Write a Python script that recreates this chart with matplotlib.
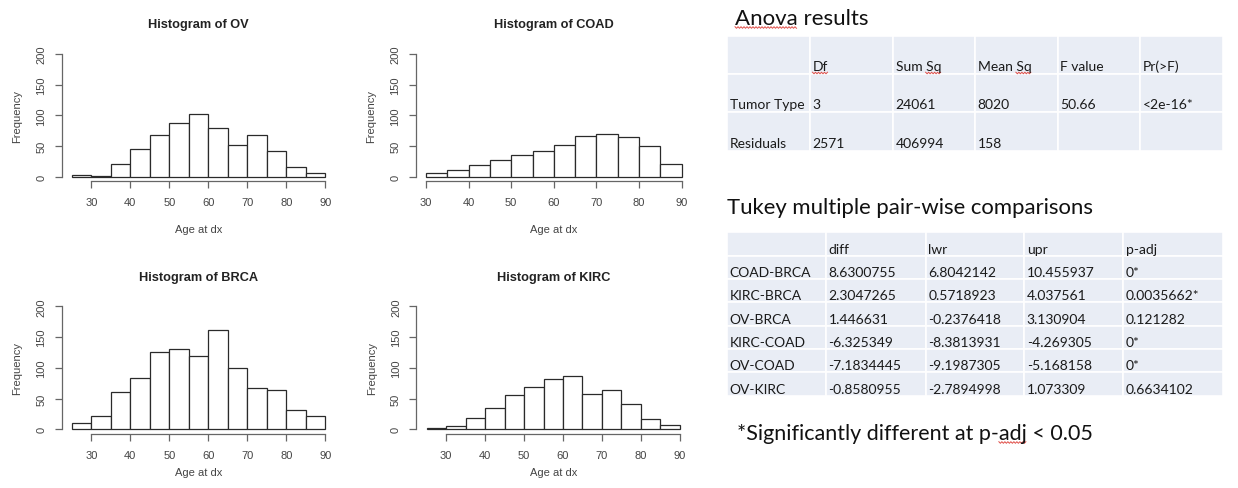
import numpy as np
import matplotlib
matplotlib.use('Agg')
import matplotlib.pyplot as plt
from matplotlib.patches import Rectangle

W, H = 1238, 489

# age-at-diagnosis histograms, 5-year bins
ov_edges = np.arange(25, 91, 5)
ov_counts = [2, 1, 20, 45, 68, 88, 102, 80, 52, 68, 41, 16, 5]
coad_edges = np.arange(30, 91, 5)
coad_counts = [5, 10, 19, 27, 35, 42, 52, 66, 69, 64, 50, 20]
brca_edges = np.arange(25, 91, 5)
brca_counts = [11, 21, 60, 84, 126, 130, 120, 161, 99, 67, 64, 31, 21]
kirc_edges = np.arange(25, 91, 5)
kirc_counts = [2, 5, 19, 35, 55, 69, 82, 86, 57, 64, 41, 16, 7]

# ANOVA table
anova_header = ['', 'Df', 'Sum Sq', 'Mean Sq', 'F value', 'Pr(>F)']
anova_rows = [['Tumor Type', '3', '24061', '8020', '50.66', '<2e-16*'],
              ['Residuals', '2571', '406994', '158', '', '']]

# Tukey HSD table
tukey_header = ['', 'diff', 'lwr', 'upr', 'p-adj']
tukey_rows = [['COAD-BRCA', '8.6300755', '6.8042142', '10.455937', '0*'],
              ['KIRC-BRCA', '2.3047265', '0.5718923', '4.037561', '0.0035662*'],
              ['OV-BRCA', '1.446631', '-0.2376418', '3.130904', '0.121282'],
              ['KIRC-COAD', '-6.325349', '-8.3813931', '-4.269305', '0*'],
              ['OV-COAD', '-7.1834445', '-9.1987305', '-5.168158', '0*'],
              ['OV-KIRC', '-0.8580955', '-2.7894998', '1.073309', '0.6634102']]

plt.rcParams['font.family'] = 'Liberation Sans'
fig = plt.figure(figsize=(W / 100, H / 100), dpi=100)
fig.patch.set_facecolor('white')


def px_axes(l, t, r, b, **kw):
    return fig.add_axes([l / W, 1 - b / H, (r - l) / W, (b - t) / H], **kw)


def hist_panel(box, name, edges, counts, xlab_pad):
    ax = px_axes(*box)
    ax.bar(edges[:-1], counts, width=np.diff(edges), align='edge',
           facecolor='white', edgecolor='#2a2a2a', linewidth=0.9)
    pad = 0.04 * (edges[-1] - edges[0])
    ax.set_xlim(edges[0] - pad, edges[-1] + pad)
    ax.set_ylim(-8, 208)
    for s in ['top', 'right']:
        ax.spines[s].set_visible(False)
    for s in ['left', 'bottom']:
        ax.spines[s].set_color('#666666')
        ax.spines[s].set_linewidth(0.9)
    ax.spines['left'].set_bounds(0, 200)
    ax.spines['bottom'].set_bounds(30, 90)
    ax.set_xticks(np.arange(30, 91, 10))
    ax.set_yticks(np.arange(0, 201, 50))
    ax.tick_params(length=4.8, width=0.9, color='#666666', labelsize=8,
                   labelcolor='#444444', pad=6.3)
    for lab in ax.get_yticklabels():
        lab.set_rotation(90)
        lab.set_va('center')
    ax.set_title('Histogram of ' + name, fontsize=9.2, fontweight='bold',
                 color='#222222', pad=15.7)
    ax.set_xlabel('Age at dx', fontsize=8, color='#444444', labelpad=xlab_pad)
    ax.set_ylabel('Frequency', fontsize=8, color='#444444', labelpad=10)
    ax.patch.set_alpha(0)
    return ax


hist_panel((61.7, 50.1, 335.5, 182.4), 'OV', ov_edges, ov_counts, 12.5)
hist_panel((415.7, 50.1, 692.0, 182.4), 'COAD', coad_edges, coad_counts, 12.5)
hist_panel((61.7, 302.4, 335.5, 435.2), 'BRCA', brca_edges, brca_counts, 5.5)
hist_panel((416.4, 302.4, 690.1, 435.2), 'KIRC', kirc_edges, kirc_counts, 5.5)

# right-hand side: tables drawn in a pixel-coordinate overlay
ov = fig.add_axes([0, 0, 1, 1])
ov.set_xlim(0, W)
ov.set_ylim(H, 0)
ov.axis('off')
ov.patch.set_alpha(0)

cell_bg = '#E9EDF5'
txt_col = '#1a1a1a'
tfont = 'Lato'


def draw_table(cols, rows, header, body, size, base_off):
    cells = [header] + body
    for i in range(len(rows) - 1):
        for j in range(len(cols) - 1):
            ov.add_patch(Rectangle((cols[j], rows[i]), cols[j + 1] - cols[j],
                                   rows[i + 1] - rows[i], facecolor=cell_bg,
                                   edgecolor='white', linewidth=1.2))
            ov.text(cols[j] + 2.5, rows[i + 1] - base_off, cells[i][j],
                    fontsize=size, color=txt_col, family=tfont, va='baseline')


def squiggle(x0, x1, y):
    xs = np.arange(x0, x1 + 0.1, 1.5)
    ys = y + np.where(np.arange(len(xs)) % 2 == 0, -0.8, 0.8)
    ov.plot(xs, ys, color='#e0504a', linewidth=0.7)


def text_width(s, size):
    t = ov.text(0, 0, s, fontsize=size, family=tfont)
    r = fig.canvas.get_renderer()
    w = t.get_window_extent(r).width
    t.remove()
    return w


anova_size, tukey_size, note_size = 16, 15.9, 15.5
ov.text(735, 25, 'Anova results', fontsize=anova_size, color='#111111',
        family=tfont, va='baseline')
ov.text(727, 214.3, 'Tukey multiple pair-wise comparisons', fontsize=tukey_size,
        color='#111111', family=tfont, va='baseline')
ov.text(737, 440, '*Significantly different at p-adj < 0.05', fontsize=note_size,
        color='#111111', family=tfont, va='baseline')

anova_cols = [727, 810, 893, 975, 1057.5, 1140, 1223]
anova_rowy = [37.3, 75, 113.3, 152.3]
draw_table(anova_cols, anova_rowy, anova_header, anova_rows, 10, 4)

tukey_cols = [727, 826, 925.7, 1024.3, 1123.3, 1223]
tukey_rowy = [232.7, 256.7, 280, 303.3, 326.7, 350, 373.3, 397.3]
draw_table(tukey_cols, tukey_rowy, tukey_header, tukey_rows, 10, 3)

# spell-check marks under a few words
fig.canvas.draw()
squiggle(735, 735 + text_width('Anova', anova_size), 28.5)
squiggle(anova_cols[1] + 2.5, anova_cols[1] + 2.5 + text_width('Df', 10), 74)
for j in (2, 3):
    pre = anova_header[j].split(' ')[0] + ' '
    x0 = anova_cols[j] + 2.5 + text_width(pre, 10)
    squiggle(x0, x0 + text_width('Sq', 10), 74)
pre_w = text_width('*Significantly different at p-', note_size)
squiggle(737 + pre_w, 737 + pre_w + text_width('adj', note_size), 443.5)

fig.savefig('out.png', dpi=100, facecolor='white')
